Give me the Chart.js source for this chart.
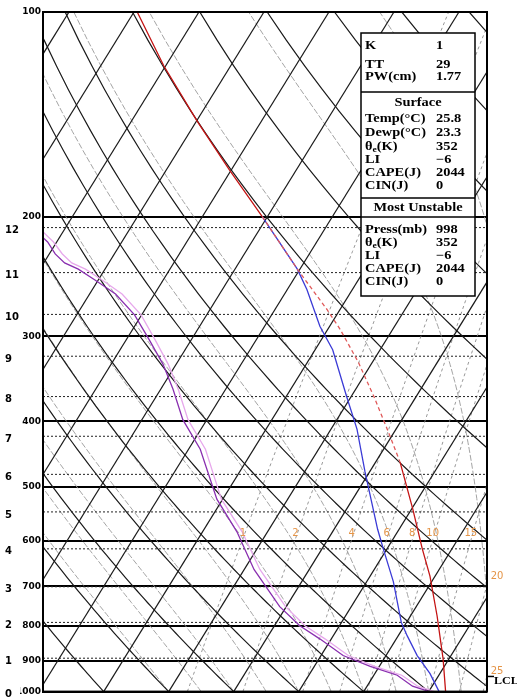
<!DOCTYPE html>
<html>
<head>
<meta charset="utf-8">
<script src="https://cdn.jsdelivr.net/npm/chart.js@4.4.1/dist/chart.umd.min.js"></script>
<style>
  html, body { margin: 0; padding: 0; background: #fff; }
  canvas { display: block; }
</style>
</head>
<body>
<canvas id="skewt" width="517" height="699"></canvas>
<script>
// ---- axis labels -------------------------------------------------------
const pressureTicks = [100, 200, 300, 400, 500, 600, 700, 800, 900, 1000];
const heightKm = [0, 1, 2, 3, 4, 5, 6, 7, 8, 9, 10, 11, 12];
const heightP  = [1000, 893, 791, 701, 616.5, 544, 479, 421, 368, 321, 278.6, 241.8, 207.6];

// ---- sounding profiles (hPa, °C) ---------------------------------------
const tempP = [100, 120, 145, 171, 200, 239, 274, 293, 328, 368, 415, 460, 539, 616, 676, 774, 895, 1000];
const tempC = [-89.5, -80.3, -69.8, -60.2, -50.8, -40.4, -32.0, -28.1, -22.1, -16.5, -10.9, -6.2, 0.2, 5.4, 9.2, 14.1, 19.1, 22.6];

const wetP = [200, 239, 256, 290, 314, 368, 411, 475, 577, 616, 689, 791, 828, 885, 941, 1000];
const wetC = [-50.8, -40.4, -37.0, -31.5, -27.3, -20.7, -16.0, -10.7, -3.3, -0.6, 4.1, 9.2, 11.4, 14.8, 18.5, 21.6];

const dewP  = [200, 218, 227, 234, 239, 248, 260, 279, 304, 330, 359, 398, 440, 521, 582, 661, 750, 800, 837, 885, 918, 946, 982, 1000];
const dewC  = [-88, -81.4, -79.1, -76.8, -74.1, -70.5, -66.0, -61.1, -56.4, -52.0, -48.1, -43.7, -38.2, -30.9, -24.7, -18.5, -11.0, -6.1, -1.7, 3.4, 8.6, 13.6, 17.0, 20.1];
const dew2C = [-87, -80.5, -78.0, -75.7, -73.0, -69.4, -65.0, -60.1, -55.5, -51.2, -47.3, -42.9, -37.4, -30.2, -23.9, -17.6, -10.1, -5.3, -0.9, 4.2, 9.3, 14.3, 17.8, 20.9];

// ---- background line families -----------------------------------------
const isotherms = [-110, -100, -90, -80, -70, -60, -50, -40, -30, -20, -10, 0, 10, 20, 30];
const dryThetaC = [-30, -20, -10, 0, 10, 20, 30, 40, 50, 60, 80, 100, 120, 140, 160, 180];
const moistStartC = [-20, -15, -10, -5, 0, 5, 10, 15, 20, 25, 30, 35, 40];
const mixRatios = [1, 2, 4, 6, 8, 10, 15, 20, 25];

// ---- annotations --------------------------------------------------------
const mixLabelsInside = [1, 2, 4, 6, 8, 10, 15];
const mixLabelP = 585;
const mixEdgeLabels = [20, 25];
const mixEdgeP = [676, 935];
const lclP = 950;

// ---- stability table ---------------------------------------------------
const indexNames = ['K', 'TT', 'PW(cm)'];
const indexVals  = ['1', '29', '1.77'];
const surfNames  = ['Temp(°C)', 'Dewp(°C)', 'θe(K)', 'LI', 'CAPE(J)', 'CIN(J)'];
const surfVals   = ['25.8', '23.3', '352', '−6', '2044', '0'];
const muNames    = ['Press(mb)', 'θe(K)', 'LI', 'CAPE(J)', 'CIN(J)'];
const muVals     = ['998', '352', '−6', '2044', '0'];

// ---- skew-T geometry & thermodynamics ----------------------------------
const SKEW = 28.08;               // x shift (°C) per unit of ln(1000/p)
const X_MIN = -39.34, X_MAX = 28.97;
const skewX = (t, p) => t + SKEW * Math.log(1000 / p);
const satVap = t => 6.112 * Math.exp(17.67 * t / (t + 243.5));
const dewFromMix = (w, p) => {
  const e = w * p / (622 + w);
  const l = Math.log(e / 6.112);
  return 243.5 * l / (17.67 - l);
};
function moistLapse(T, p) {       // dT/dp along a saturated pseudo-adiabat (K/hPa)
  const Rd = 287.04, Lv = 2.501e6, Cp = 1005.7, eps = 0.622;
  const es = satVap(T - 273.15);
  const rs = eps * es / (p - es);
  return (Rd * T + Lv * rs) / (p * (Cp + Lv * Lv * rs * eps / (Rd * T * T)));
}

const pSteps = [];
for (let p = 1000; p >= 100; p -= 10) pSteps.push(p);

function isotherm(t) { return [{ x: skewX(t, 1000), y: 1000 }, { x: skewX(t, 100), y: 100 }]; }
function dryAdiabat(thetaC) {
  const th = thetaC + 273.15;
  return pSteps.map(p => ({ x: skewX(th * Math.pow(p / 1000, 0.2857) - 273.15, p), y: p }));
}
function moistAdiabat(t0) {
  const pts = [];
  let T = t0 + 273.15;
  for (let p = 1000; p >= 100; p -= 10) {
    pts.push({ x: skewX(T - 273.15, p), y: p });
    const dp = -10;
    const k1 = moistLapse(T, p);
    const k2 = moistLapse(T + k1 * dp / 2, p + dp / 2);
    T += k2 * dp;
  }
  return pts;
}
function mixLine(w) {
  const pts = [];
  for (let p = 1000; p >= 100; p -= 25) pts.push({ x: skewX(dewFromMix(w, p), p), y: p });
  return pts;
}
const profile = (ps, ts) => ps.map((p, i) => ({ x: skewX(ts[i], p), y: p }));

function lineSet(label, data, color, width, dash) {
  return {
    label, data, showLine: true, borderColor: color, borderWidth: width,
    borderDash: dash || [], pointRadius: 0, pointHoverRadius: 0,
    tension: 0, clip: 0, fill: false
  };
}

// ---- datasets (first = drawn on top) ----------------------------------
const datasets = [];
const temp = lineSet('Temperature', profile(tempP, tempC), '#c41414', 1.3);
const dashedLayer = c => c.p1.parsed.y > 200 && c.p1.parsed.y < 470;
temp.segment = {
  borderDash: c => (dashedLayer(c) ? [4, 3] : undefined),
  borderColor: c => (dashedLayer(c) ? '#e05a5a' : undefined)
};
datasets.push(temp);
datasets.push(lineSet('Wet-bulb', profile(wetP, wetC), '#3b3bd6', 1.3));
datasets.push(lineSet('Dewpoint', profile(dewP, dewC), '#8a2fb0', 1.3));
datasets.push(lineSet('Dewpoint (model)', profile(dewP, dew2C), '#e7a8ec', 1.3));

for (let i = 1; i < heightKm.length; i++) {
  const p = heightP[i];
  datasets.push(lineSet(heightKm[i] + ' km', [{ x: X_MIN, y: p }, { x: X_MAX, y: p }], '#222', 1, [2, 2]));
}
for (const t of isotherms) datasets.push(lineSet('T ' + t, isotherm(t), '#1a1a1a', 1.2));
for (const th of dryThetaC) datasets.push(lineSet('θ ' + th, dryAdiabat(th), '#1a1a1a', 1.2));
for (const t of moistStartC) datasets.push(lineSet('θw ' + t, moistAdiabat(t), '#9a9a9a', 0.9, [6, 2]));
for (const w of mixRatios) datasets.push(lineSet('w ' + w, mixLine(w), '#8c8c8c', 0.9, [3, 3]));

// ---- overlay: frame, stability table, mixing-ratio labels, LCL ---------
const STRETCH = 1.2;              // wide table lettering
function wideText(ctx, s, x, y, align) {
  ctx.save();
  ctx.translate(x, y);
  ctx.scale(STRETCH, 1);
  ctx.textAlign = align || 'left';
  ctx.fillText(s, 0, 0);
  ctx.restore();
}

const overlay = {
  id: 'overlay',
  afterDatasetsDraw(chart) {
    const { ctx, chartArea: a } = chart;
    ctx.save();
    ctx.strokeStyle = '#000';
    ctx.lineWidth = 2;
    ctx.strokeRect(a.left, a.top, a.right - a.left, a.bottom - a.top);
    ctx.restore();
  },
  afterDraw(chart) {
    const { ctx, chartArea: a, scales } = chart;
    const xs = scales.x, ys = scales.y;
    ctx.save();

    // mixing-ratio labels
    ctx.fillStyle = '#e59548';
    ctx.font = '10px "DejaVu Sans"';
    ctx.textAlign = 'center';
    ctx.textBaseline = 'middle';
    for (const w of mixLabelsInside) {
      const x = xs.getPixelForValue(skewX(dewFromMix(w, mixLabelP), mixLabelP));
      ctx.fillText(String(w), x - 2, ys.getPixelForValue(mixLabelP));
    }
    mixEdgeLabels.forEach((w, i) => ctx.fillText(String(w), a.right + 10, ys.getPixelForValue(mixEdgeP[i])));

    // LCL marker
    const yl = ys.getPixelForValue(lclP);
    ctx.strokeStyle = '#000';
    ctx.lineWidth = 1.5;
    ctx.beginPath(); ctx.moveTo(a.right + 1, yl); ctx.lineTo(a.right + 7, yl); ctx.stroke();
    ctx.fillStyle = '#000';
    ctx.font = 'bold 10px "Liberation Serif"';
    wideText(ctx, 'LCL', a.right + 7, yl + 5, 'left');

    // stability table
    const L = 361, R = 475, T = 33, B = 296;
    ctx.fillStyle = '#fff';
    ctx.fillRect(L, T, R - L, B - T);
    ctx.strokeStyle = '#000';
    ctx.lineWidth = 1.5;
    ctx.strokeRect(L, T, R - L, B - T);
    [92, 198, 217].forEach(y => { ctx.beginPath(); ctx.moveTo(L, y); ctx.lineTo(R, y); ctx.stroke(); });

    ctx.fillStyle = '#000';
    const big = 'bold 12px "Liberation Serif"', small = 'bold 8px "Liberation Serif"';
    ctx.font = big;
    ctx.textBaseline = 'middle';
    const nameX = L + 4, valX = 436;
    const drawName = (s, y) => {
      if (s.startsWith('θe')) {
        wideText(ctx, 'θ', nameX, y);
        const w = ctx.measureText('θ').width * STRETCH;
        ctx.font = small;
        wideText(ctx, 'e', nameX + w, y + 3);
        const w2 = ctx.measureText('e').width * STRETCH;
        ctx.font = big;
        wideText(ctx, s.slice(2), nameX + w + w2, y);
      } else {
        wideText(ctx, s, nameX, y);
      }
    };
    const rows = (names, vals, ys0) => names.forEach((n, i) => {
      drawName(n, ys0[i]);
      wideText(ctx, vals[i], valX, ys0[i]);
    });
    rows(indexNames, indexVals, [46, 65, 77]);
    wideText(ctx, 'Surface', (L + R) / 2, 103, 'center');
    rows(surfNames, surfVals, [119, 133, 147, 160, 173, 186]);
    wideText(ctx, 'Most Unstable', (L + R) / 2, 208, 'center');
    rows(muNames, muVals, [230, 243, 256, 269, 282]);
    ctx.restore();
  }
};

new Chart(document.getElementById('skewt'), {
  type: 'scatter',
  data: { datasets },
  options: {
    responsive: false,
    animation: false,
    devicePixelRatio: 1,
    events: [],
    layout: { padding: { left: 5, right: 30, top: 12, bottom: 7 } },
    plugins: { legend: { display: false }, tooltip: { enabled: false } },
    scales: {
      x: { type: 'linear', min: X_MIN, max: X_MAX, display: false },
      y: {
        type: 'logarithmic', reverse: true, min: 100, max: 1000, position: 'left', weight: 0,
        afterBuildTicks: ax => { ax.ticks = pressureTicks.map(v => ({ value: v })); },
        afterFit: ax => { ax.width = 23; },
        ticks: {
          autoSkip: false, padding: 2, color: '#000',
          font: { family: 'DejaVu Sans', size: 9, weight: 'bold' },
          callback: v => String(v)
        },
        grid: { color: '#000', lineWidth: 2, drawTicks: false },
        border: { display: true, color: '#000', width: 2 }
      },
      yH: {
        type: 'logarithmic', reverse: true, min: 100, max: 1000, position: 'left', weight: 1,
        afterBuildTicks: ax => { ax.ticks = heightP.map(v => ({ value: v })); },
        afterFit: ax => { ax.width = 15; },
        ticks: {
          autoSkip: false, padding: 0, crossAlign: 'far', labelOffset: 3, color: '#000',
          font: { family: 'DejaVu Sans', size: 10, weight: 'bold' },
          callback: (v, i) => String(heightKm[i])
        },
        grid: { display: false, drawTicks: false },
        border: { display: false }
      }
    }
  },
  plugins: [overlay]
});
</script>
</body>
</html>
